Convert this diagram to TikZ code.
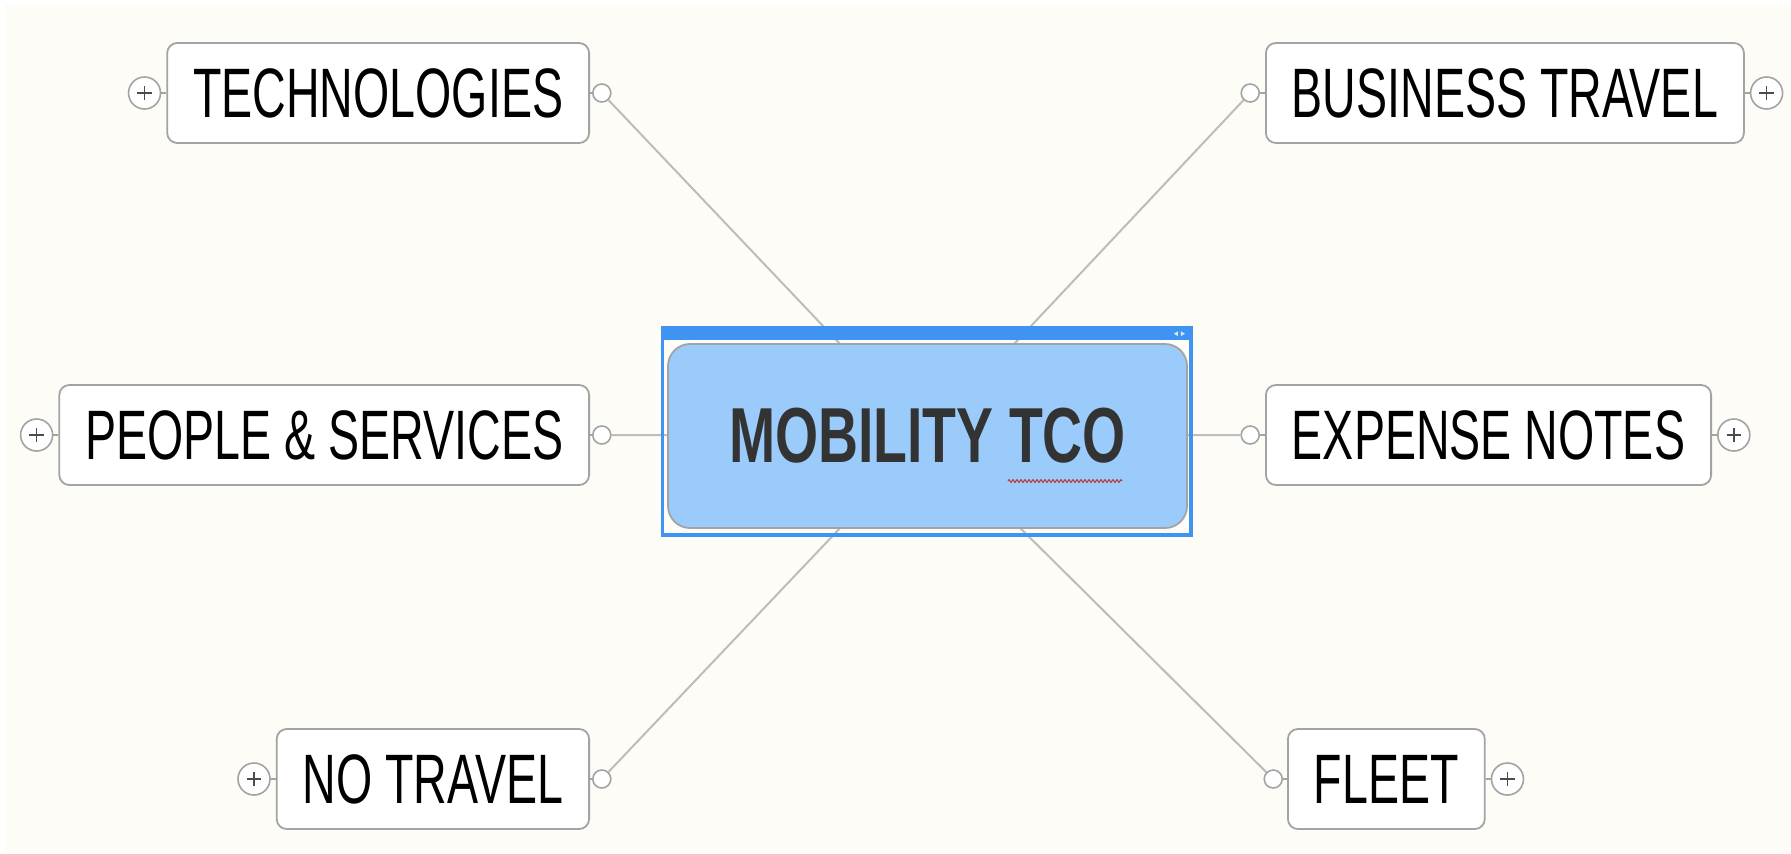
\documentclass[tikz,border=0pt]{standalone}
\usepackage{fontspec}
\usetikzlibrary{backgrounds,positioning,decorations.pathmorphing}
\newfontfamily\mapfont[FakeStretch=0.665]{Liberation Sans}
\newfontfamily\titlefont[FakeStretch=0.71]{Liberation Sans}
\definecolor{paper}{HTML}{FDFCF6}
\definecolor{linegrey}{HTML}{BDBDBD}
\definecolor{boxgrey}{HTML}{A3A3A3}
\definecolor{selblue}{HTML}{3F93F2}
\definecolor{topicblue}{HTML}{9ACBFB}

\begin{document}
\begin{tikzpicture}[x=0.5pt,y=-0.5pt]
	% `topic' is used for the six branches, `central' for the main idea.
	% `knob' sits where a branch meets its link, `expander' is the (+) button.
	\tikzstyle{topic} = [draw=boxgrey,fill=white,line width=0.9pt,rounded corners=5pt,minimum height=50pt,inner xsep=13pt,font=\mapfont\fontsize{35}{40}\selectfont]
	\tikzstyle{central} = [draw=boxgrey,fill=topicblue,line width=0.9pt,rounded corners=11pt,minimum width=259.5pt,minimum height=92pt,text=black!80,font=\titlefont\bfseries\fontsize{39}{44}\selectfont]
	\tikzstyle{knob} = [draw=boxgrey,fill=white,circle,line width=0.8pt,minimum size=9pt,inner sep=0pt]
	\tikzstyle{expander} = [draw=boxgrey,fill=white,circle,line width=0.8pt,minimum size=16pt,inner sep=0pt,
		path picture={\draw[black!70,line width=0.8pt]
			([xshift=-3.6pt]path picture bounding box.center) -- ([xshift=3.6pt]path picture bounding box.center)
			([yshift=-3.6pt]path picture bounding box.center) -- ([yshift=3.6pt]path picture bounding box.center);}]
	\tikzstyle{link} = [linegrey,line width=1pt]
	\tikzstyle{tick} = [boxgrey,line width=0.8pt]
	\useasboundingbox (0,0) rectangle (1791,853);
	%
	% Main idea.
	\node[central] (centre) at (927.5,436) {\raisebox{-2.5pt}{MOBILITY TCO}};
	% Left branches.
	\node[topic,anchor=east] (tech) at (590,93) {TECHNOLOGIES};
	\node[topic,anchor=east] (people) at (590,435) {PEOPLE \& SERVICES};
	\node[topic,anchor=east] (notravel) at (590,779) {NO TRAVEL};
	% Right branches.
	\node[topic,anchor=west] (business) at (1265,93) {BUSINESS TRAVEL};
	\node[topic,anchor=west] (expense) at (1265,435) {EXPENSE NOTES};
	\node[topic,anchor=west] (fleet) at (1287,779) {FLEET};
	% Knobs and (+) buttons.
	\node[knob,right=1pt of tech] (techknob) {};
	\node[knob,right=1pt of people] (peopleknob) {};
	\node[knob,right=1pt of notravel] (notravelknob) {};
	\node[knob,left=2.5pt of business] (businessknob) {};
	\node[knob,left=2.5pt of expense] (expenseknob) {};
	\node[knob,left=2pt of fleet] (fleetknob) {};
	\node[expander,left=2.5pt of tech] (techplus) {};
	\node[expander,left=2.5pt of people] (peopleplus) {};
	\node[expander,left=2.5pt of notravel] (notravelplus) {};
	\node[expander,right=2.5pt of business] (businessplus) {};
	\node[expander,right=2.5pt of expense] (expenseplus) {};
	\node[expander,right=2.5pt of fleet] (fleetplus) {};
	% Selection frame round the main idea.
	\coordinate (framesw) at ([shift={(-2.5pt,-3pt)}]centre.south west);
	\coordinate (framene) at ([shift={(1.5pt,8pt)}]centre.north east);
	\fill[selblue] (framesw |- framene) rectangle ([yshift=-6.5pt]framene);
	\draw[selblue,line width=1.6pt] (framesw) rectangle (framene);
	\fill[white!80!selblue] ([shift={(-8.5pt,-3.3pt)}]framene) -- ++(2pt,1.2pt) -- ++(0,-2.4pt) -- cycle;
	\fill[white!80!selblue] ([shift={(-3pt,-3.3pt)}]framene) -- ++(-2pt,1.2pt) -- ++(0,-2.4pt) -- cycle;
	% Spell-check mark under TCO.
	\draw[red!70!black!80,line width=0.5pt,decorate,decoration={zigzag,segment length=2pt,amplitude=0.7pt}] (1008,481) -- (1122,481);
	\begin{pgfonlayer}{background}
		% Paper.
		\fill[paper] (5,5) rectangle (1791,853);
		% Draw links.
		\draw[link] (centre.center) -- (techknob);
		\draw[link] (centre.center) -- (peopleknob);
		\draw[link] (centre.center) -- (notravelknob);
		\draw[link] (centre.center) -- (businessknob);
		\draw[link] (centre.center) -- (expenseknob);
		\draw[link] (centre.center) -- (fleetknob);
		\foreach \t in {tech,people,notravel,business,expense,fleet} {
			\draw[tick] (\t knob) -- (\t);
			\draw[tick] (\t plus) -- (\t);
		}
	\end{pgfonlayer}
%
\end{tikzpicture}
\end{document}
